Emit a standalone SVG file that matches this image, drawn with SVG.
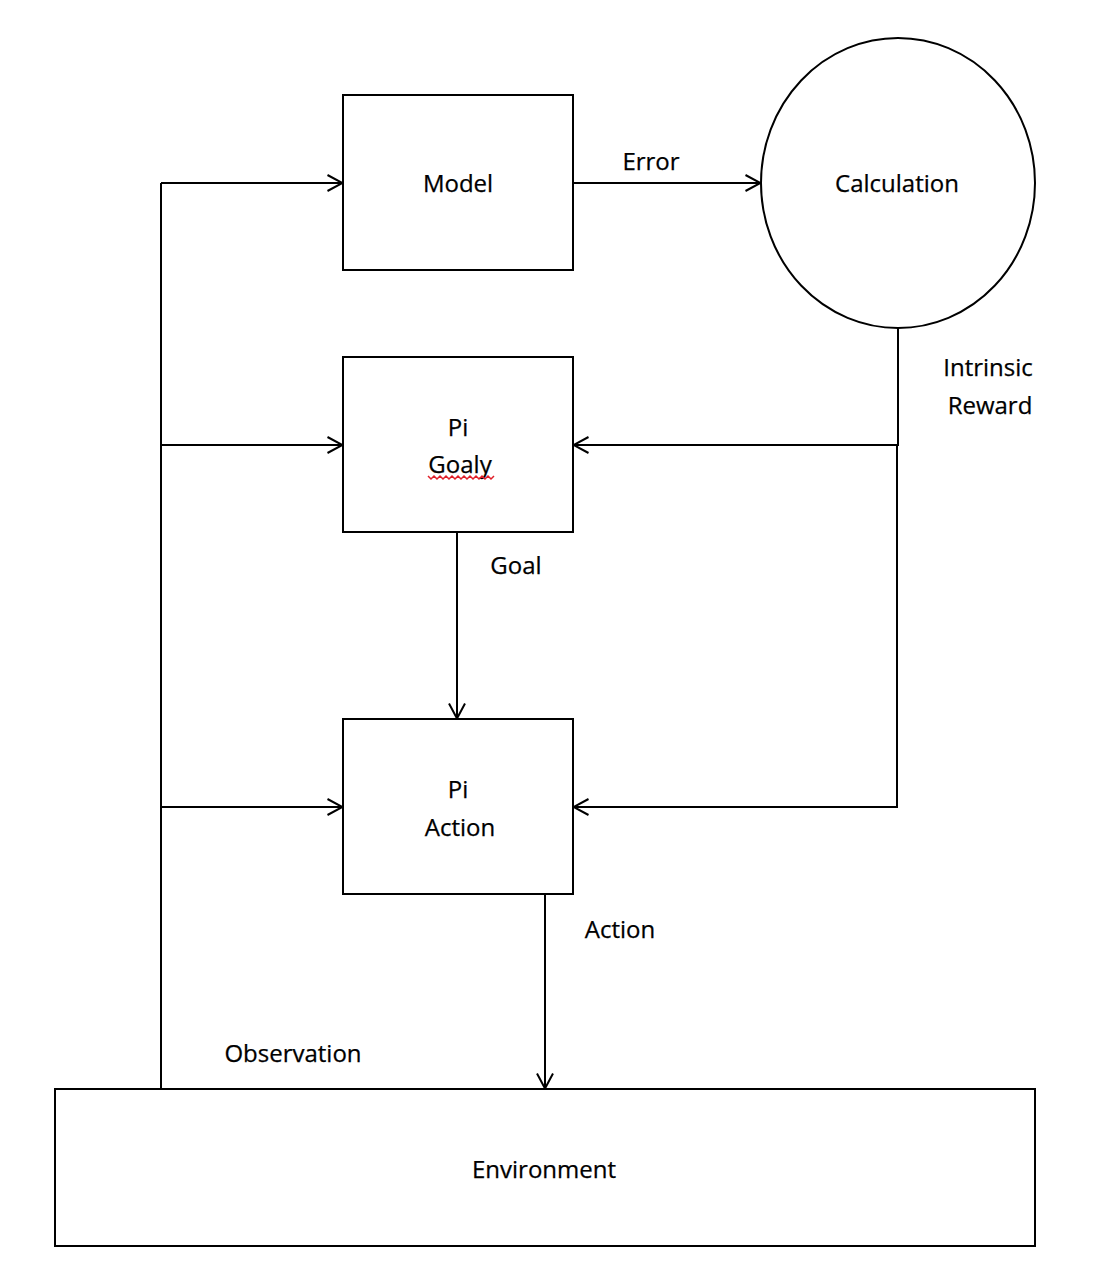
<svg xmlns="http://www.w3.org/2000/svg" width="1120" height="1278" viewBox="0 0 1120 1278">
  <style>
    .box { fill: #fff; stroke: #000; stroke-width: 2; }
    .wire { fill: none; stroke: #000; stroke-width: 2; }
    text { font-family: "Open Sans", "Noto Sans", sans-serif; font-size: 24px; fill: #000; stroke: #000; stroke-width: 0.25; }
    .mid { text-anchor: middle; }
  </style>
  <defs>
    <marker id="open" viewBox="0 0 17 18" refX="16.5" refY="9" markerWidth="17" markerHeight="18" markerUnits="userSpaceOnUse" orient="auto">
      <path d="M1,1 L16,9 L1,17" fill="none" stroke="#000" stroke-width="2"/>
    </marker>
  </defs>

  <rect width="1120" height="1278" fill="#fff"/>

  <g id="connectors">
    <!-- observation trunk and branches -->
    <path class="wire" d="M161,1089 V183"/>
    <path class="wire" d="M161,183 H343" marker-end="url(#open)"/>
    <path class="wire" d="M161,445 H343" marker-end="url(#open)"/>
    <path class="wire" d="M161,807 H343" marker-end="url(#open)"/>
    <!-- error -->
    <path class="wire" d="M573,183 H761" marker-end="url(#open)"/>
    <!-- intrinsic reward -->
    <path class="wire" d="M898,328 V445 H573" marker-end="url(#open)"/>
    <path class="wire" d="M897,445 V807 H573" marker-end="url(#open)"/>
    <!-- goal -->
    <path class="wire" d="M457,532 V719" marker-end="url(#open)"/>
    <!-- action -->
    <path class="wire" d="M545,894 V1089" marker-end="url(#open)"/>
  </g>

  <g id="labels">
    <text x="651" y="170" class="mid">Error</text>
    <text x="988" y="376" class="mid">Intrinsic</text>
    <text x="990" y="414" class="mid">Reward</text>
    <text x="516" y="574" class="mid">Goal</text>
    <text x="620" y="938" class="mid">Action</text>
    <text x="293" y="1062" class="mid">Observation</text>
  </g>

  <g id="model">
    <rect class="box" x="343" y="95" width="230" height="175"/>
    <text x="458" y="192" class="mid">Model</text>
  </g>

  <g id="calculation">
    <ellipse class="box" cx="898" cy="183" rx="137" ry="145"/>
    <text x="897" y="192" class="mid">Calculation</text>
  </g>

  <g id="pi-goaly">
    <rect class="box" x="343" y="357" width="230" height="175"/>
    <text x="458" y="436" class="mid">Pi</text>
    <text x="460" y="473" class="mid">Goaly</text>
    <!-- spell-check wavy underline -->
    <path d="M428,476 l3,3 l3,-3 l3,3 l3,-3 l3,3 l3,-3 l3,3 l3,-3 l3,3 l3,-3 l3,3 l3,-3 l3,3 l3,-3 l3,3 l3,-3 l3,3 l3,-3 l3,3 l3,-3 l3,3 l3,-3" fill="none" stroke="#e0202a" stroke-width="1.5"/>
  </g>

  <g id="pi-action">
    <rect class="box" x="343" y="719" width="230" height="175"/>
    <text x="458" y="798" class="mid">Pi</text>
    <text x="460" y="836" class="mid">Action</text>
  </g>

  <g id="environment">
    <rect class="box" x="55" y="1089" width="980" height="157"/>
    <text x="544" y="1178" class="mid">Environment</text>
  </g>
</svg>
